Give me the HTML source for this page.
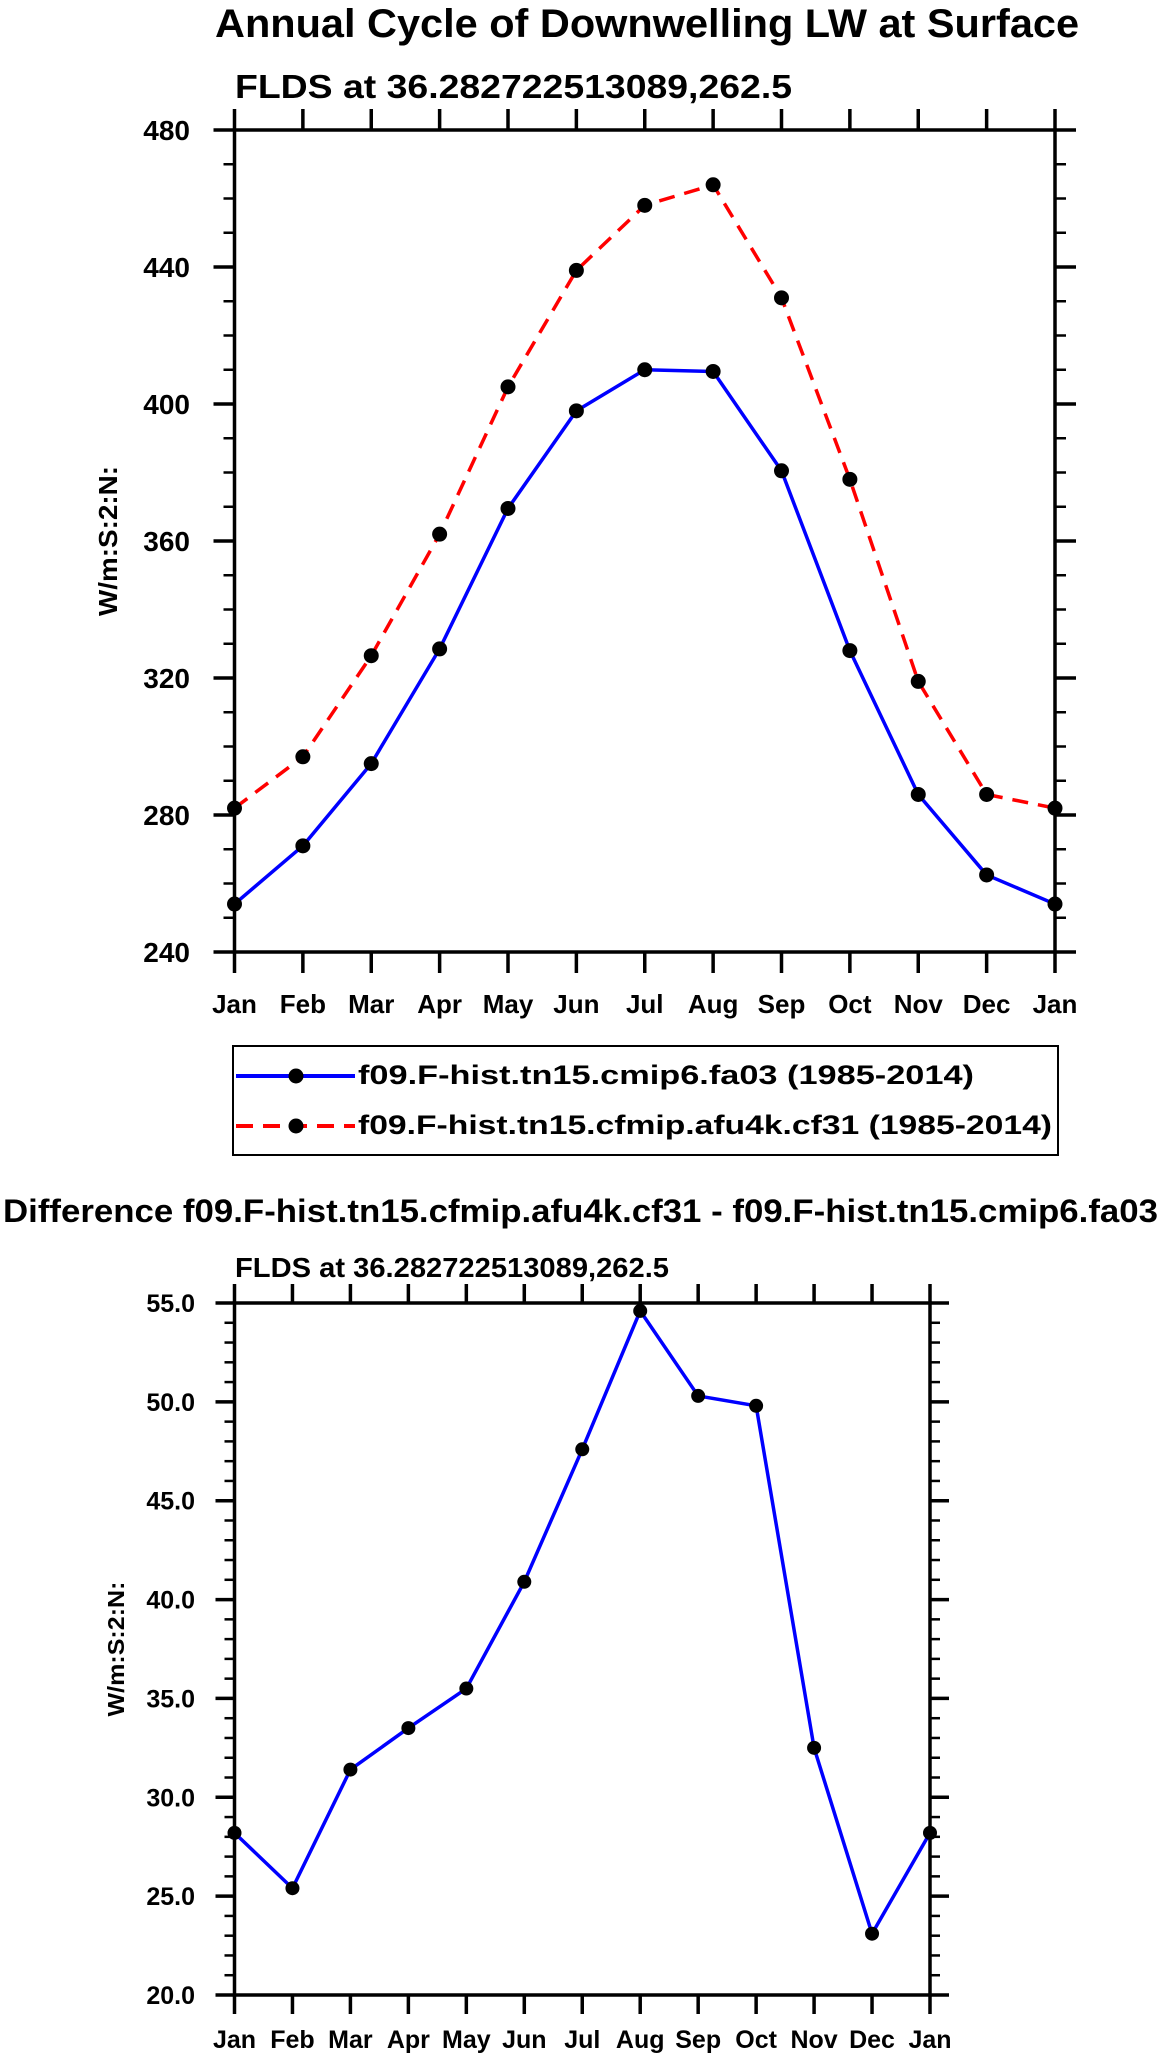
<!DOCTYPE html>
<html><head><meta charset="utf-8"><style>
html,body{margin:0;padding:0;background:#fff;}
svg{display:block;font-family:"Liberation Sans",sans-serif;font-weight:bold;}
</style></head><body>
<svg id="chart" width="1161" height="2059" viewBox="0 0 1161 2059" xmlns="http://www.w3.org/2000/svg">
<rect width="1161" height="2059" fill="#fff"/>
<text x="215" y="37" font-size="40" textLength="864" lengthAdjust="spacingAndGlyphs">Annual Cycle of Downwelling LW at Surface</text>
<text x="235" y="98" font-size="33" textLength="557" lengthAdjust="spacingAndGlyphs">FLDS at 36.282722513089,262.5</text>
<g id="top"></g>
<g>
<rect x="233" y="1046" width="825" height="109" fill="none" stroke="#000" stroke-width="2"/>
<g>
<line x1="236" y1="1076" x2="355" y2="1076" stroke="#00f" stroke-width="4"/>
<circle cx="296" cy="1076" r="7.5" fill="#000"/>
<text x="358" y="1084" font-size="27" textLength="616" lengthAdjust="spacingAndGlyphs">f09.F-hist.tn15.cmip6.fa03 (1985-2014)</text>
</g>
<g>
<line x1="236" y1="1126" x2="355" y2="1126" stroke="#f00" stroke-width="4" stroke-dasharray="17,10"/>
<circle cx="296" cy="1126" r="7.5" fill="#000"/>
<text x="358" y="1134" font-size="27" textLength="694" lengthAdjust="spacingAndGlyphs">f09.F-hist.tn15.cfmip.afu4k.cf31 (1985-2014)</text>
</g>
</g>
<text x="3" y="1222" font-size="32" textLength="1155" lengthAdjust="spacingAndGlyphs">Difference f09.F-hist.tn15.cfmip.afu4k.cf31 - f09.F-hist.tn15.cmip6.fa03</text>
<text x="235" y="1277" font-size="28" textLength="434" lengthAdjust="spacingAndGlyphs">FLDS at 36.282722513089,262.5</text>
<g id="bot"></g>
</svg>
<script>
const months = ["Jan","Feb","Mar","Apr","May","Jun","Jul","Aug","Sep","Oct","Nov","Dec","Jan"];
const cmip6Values = [254, 271, 295, 328.5, 369.5, 398, 410, 409.5, 380.5, 328, 286, 262.5, 254];
const cfmipValues = [282, 297, 326.5, 362, 405, 439, 458, 464, 431, 378, 319, 286, 282];
const diffValues = [28.2, 25.4, 31.4, 33.5, 35.5, 40.9, 47.6, 54.6, 50.3, 49.8, 32.5, 23.1, 28.2];
const topYTicks = [240, 280, 320, 360, 400, 440, 480];
const botYTicks = [20.0, 25.0, 30.0, 35.0, 40.0, 45.0, 50.0, 55.0];

const NS = "http://www.w3.org/2000/svg";
function mk(parent, tag, attrs){const e=document.createElementNS(NS,tag);for(const k in attrs)e.setAttribute(k,attrs[k]);parent.appendChild(e);return e;}

function drawPlot(g, cfg){
  const {L,R,T,B,ymin,ymax,yticks,minorStep,dec,ylabFont,xlabFont,xlabY,ylabRight,yTitleX,majLen,minLen,r,lw} = cfg;
  const n = months.length-1;
  const xs = i => L + (R-L)*i/n;
  const ys = v => B - (B-T)*(v-ymin)/(ymax-ymin);
  for(let v=ymin; v<=ymax+1e-9; v+=minorStep){
    if(yticks.some(t=>Math.abs(t-v)<1e-6)) continue;
    const y=ys(v);
    const t1=mk(g,"line",{x1:L-minLen,y1:y,x2:L,y2:y,stroke:"#000","stroke-width":2.5});
    
    
    const t2=mk(g,"line",{x1:R,y1:y,x2:R+minLen,y2:y,stroke:"#000","stroke-width":2.5});
    
    
  }
  yticks.forEach(v=>{
    const y=ys(v);
    const t=mk(g,"line",{x1:L-majLen,y1:y,x2:L,y2:y,stroke:"#000","stroke-width":3.5});
    
    
    const t2=mk(g,"line",{x1:R,y1:y,x2:R+majLen,y2:y,stroke:"#000","stroke-width":3.5});
    
    
    const lab=mk(g,"text",{x:ylabRight,y:y+ylabFont*0.36,"font-size":ylabFont,"text-anchor":"end"});
    lab.textContent=v.toFixed(dec);
    
    
  });
  months.forEach((m,i)=>{
    const x=xs(i);
    const t=mk(g,"line",{x1:x,y1:B,x2:x,y2:B+majLen,stroke:"#000","stroke-width":3.5});
    
    
    const t2=mk(g,"line",{x1:x,y1:T-majLen,x2:x,y2:T,stroke:"#000","stroke-width":3.5});
    
    
    const lab=mk(g,"text",{x:x,y:xlabY,"font-size":xlabFont,"text-anchor":"middle"});
    lab.textContent=m;
    
    
  });
  const frame=mk(g,"rect",{x:L,y:T,width:R-L,height:B-T,fill:"none",stroke:"#000","stroke-width":3.5});
  
  
  const yt=mk(g,"text",{x:0,y:0,"font-size":cfg.ytFont,"text-anchor":"middle",textLength:cfg.ytLen,lengthAdjust:"spacingAndGlyphs",transform:`translate(${yTitleX},${(T+B)/2}) rotate(-90)`});
  yt.textContent="W/m:S:2:N:";
  
  
  cfg.series.forEach(s=>{
    const pts=s.values.map((v,i)=>xs(i)+","+ys(v)).join(" ");
    const pl=mk(g,"polyline",{points:pts,fill:"none",stroke:s.color,"stroke-width":lw,"stroke-dasharray":s.dash||"none","stroke-linejoin":"round"});
    
    
    s.values.forEach((v,i)=>{
      const c=mk(g,"circle",{cx:xs(i),cy:ys(v),r:r,fill:"#000"});
      
      
    });
  });
}
drawPlot(document.getElementById("top"),{L:234.5,R:1055,T:130,B:952,ymin:240,ymax:480,yticks:topYTicks,minorStep:10,dec:0,
  ylabFont:28,xlabFont:26,xlabY:1013,ylabRight:190,yTitleX:117,ytFont:26,ytLen:150,majLen:21,minLen:11,r:7.5,lw:3.5,
  series:[{name:"cmip6",values:cmip6Values,color:"#00f"},{name:"cfmip",values:cfmipValues,color:"#f00",dash:"16,10"}]});
drawPlot(document.getElementById("bot"),{L:234.5,R:930,T:1303,B:1995,ymin:20,ymax:55,yticks:botYTicks,minorStep:1,dec:1,
  ylabFont:25,xlabFont:25,xlabY:2048,ylabRight:195,yTitleX:124,ytFont:23,ytLen:135,majLen:19,minLen:10,r:7,lw:3.5,
  series:[{name:"difference",values:diffValues,color:"#00f"}]});
</script>
</body></html>
